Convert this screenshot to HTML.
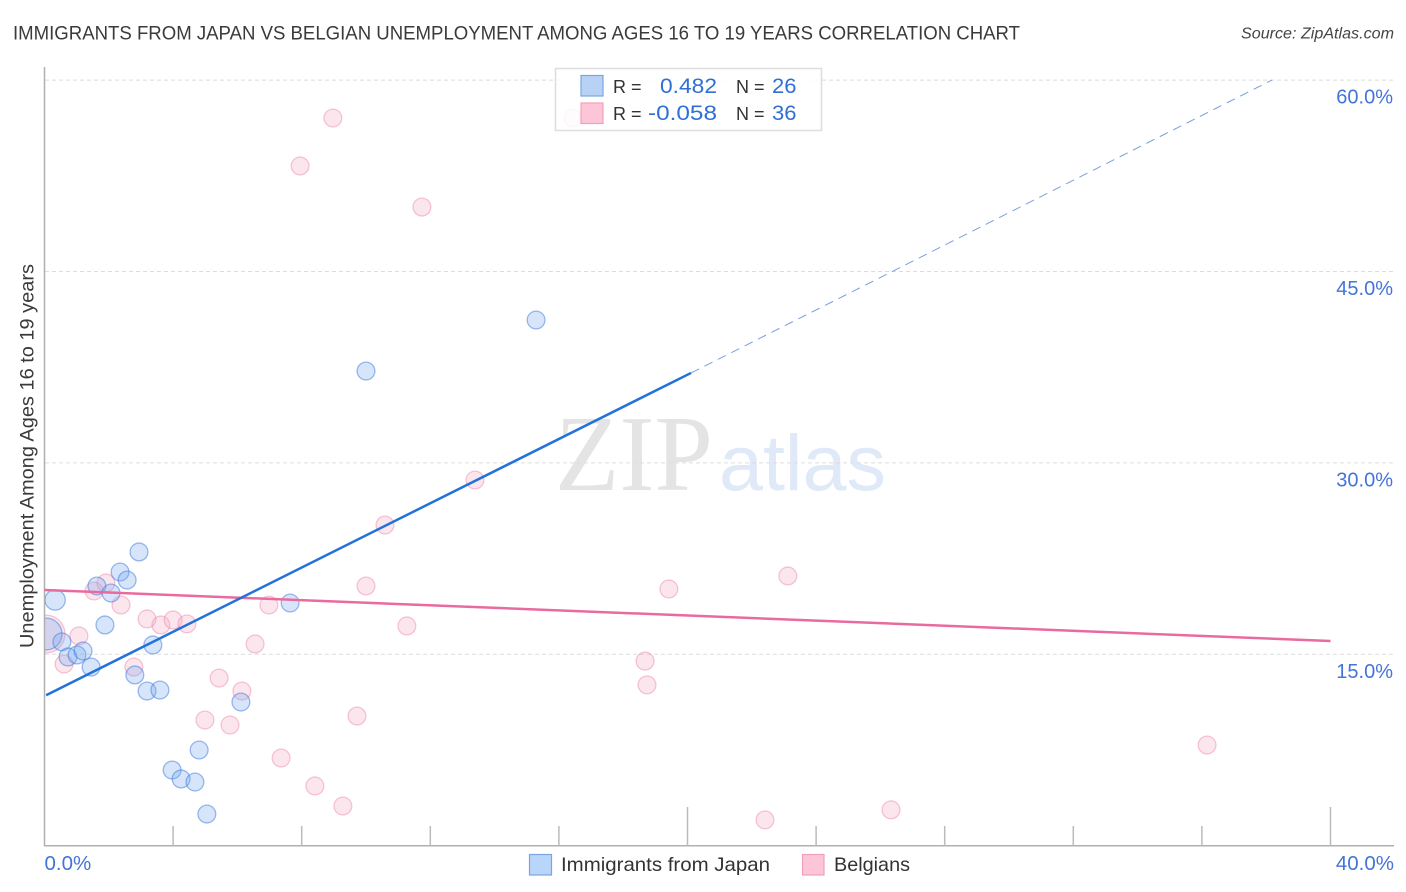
<!DOCTYPE html>
<html lang="en">
<head>
<meta charset="utf-8">
<title>Immigrants from Japan vs Belgian Unemployment Correlation Chart</title>
<style>
html,body{margin:0;padding:0;background:#fff;}
svg{display:block;font-family:"Liberation Sans",sans-serif;}
</style>
</head>
<body>
<svg id="chart" width="1406" height="892" viewBox="0 0 1406 892">
  <rect x="0" y="0" width="1406" height="892" fill="#ffffff"/>
  <text x="13" y="39.5" font-size="19.5" fill="#3a3a3a" textLength="1007" lengthAdjust="spacingAndGlyphs">IMMIGRANTS FROM JAPAN VS BELGIAN UNEMPLOYMENT AMONG AGES 16 TO 19 YEARS CORRELATION CHART</text>
  <text x="1394" y="38.5" font-size="15.5" font-style="italic" fill="#444" text-anchor="end" textLength="153" lengthAdjust="spacingAndGlyphs">Source: ZipAtlas.com</text>
  <g>
    <text x="555" y="490" font-family="'Liberation Serif',serif" font-size="108" fill="#e4e4e4" textLength="158" lengthAdjust="spacingAndGlyphs">ZIP</text>
    <text x="719" y="490" font-size="79" fill="#dfe9f8" textLength="167" lengthAdjust="spacingAndGlyphs">atlas</text>
  </g>
  <g id="grid"></g>
  <line x1="44.5" y1="67" x2="44.5" y2="846" stroke="#b0b0b0" stroke-width="1.5"/>
  <line x1="44" y1="845.7" x2="1394" y2="845.7" stroke="#b0b0b0" stroke-width="1.5"/>
  <g id="xticks"></g>
  <g id="ylabels"></g>
  <g id="xlabels"></g>
  <text transform="translate(33.5,456) rotate(-90)" font-size="19.5" fill="#3a3a3a" text-anchor="middle" textLength="384" lengthAdjust="spacingAndGlyphs">Unemployment Among Ages 16 to 19 years</text>
  <clipPath id="plot-clip"><rect x="45" y="60" width="1349" height="786"/></clipPath>
  <g id="points" clip-path="url(#plot-clip)"></g>
  <g id="trends"></g>

  <g>
    <rect x="555.5" y="68.5" width="266" height="62" fill="#ffffff" fill-opacity="0.85" stroke="#ddd" stroke-width="1.5"/>
    <rect x="581" y="75.5" width="22" height="20.5" fill="#b8d2f6" stroke="#7aa5e2" stroke-width="1.2"/>
    <rect x="581" y="103" width="22" height="20.5" fill="#fcc5d8" stroke="#f4a0bb" stroke-width="1.2"/>
    <text x="613" y="93" font-size="18" fill="#333">R =</text>
    <text x="717" y="93" font-size="21" fill="#2f6fd6" text-anchor="end" textLength="57" lengthAdjust="spacingAndGlyphs">0.482</text>
    <text x="736" y="93" font-size="18" fill="#333">N =</text>
    <text x="772" y="93" font-size="21" fill="#2f6fd6" textLength="24.5" lengthAdjust="spacingAndGlyphs">26</text>
    <text x="613" y="120" font-size="18" fill="#333">R =</text>
    <text x="717" y="120" font-size="21" fill="#2f6fd6" text-anchor="end" textLength="69" lengthAdjust="spacingAndGlyphs">-0.058</text>
    <text x="736" y="120" font-size="18" fill="#333">N =</text>
    <text x="772" y="120" font-size="21" fill="#2f6fd6" textLength="24.5" lengthAdjust="spacingAndGlyphs">36</text>
  </g>

  <g>
    <g>
      <rect x="529.5" y="854.5" width="22" height="20.5" fill="#b8d5fa" stroke="#7aa5e2" stroke-width="1.2"/>
      <text x="561" y="871" font-size="19.5" fill="#333" textLength="209" lengthAdjust="spacingAndGlyphs">Immigrants from Japan</text>
    </g>
    <g>
      <rect x="802.5" y="854.5" width="21.5" height="20.5" fill="#fcc5d8" stroke="#f0a0ba" stroke-width="1.2"/>
      <text x="834" y="871" font-size="19.5" fill="#333" textLength="76" lengthAdjust="spacingAndGlyphs">Belgians</text>
    </g>
  </g>
</svg>
<script>
// ---- chart data (percent units) ----
const japanX = [0.05,0.33,0.54,0.73,1.01,1.20,1.45,1.88,1.63,2.07,2.35,2.57,2.94,3.37,2.81,3.19,3.59,6.11,7.64,4.81,3.97,4.25,4.68,5.05,10.00,15.29];
const japanY = [16.59,19.26,15.97,14.79,14.95,15.26,14.00,17.30,20.35,19.80,21.45,20.82,23.02,15.73,13.38,12.12,12.20,11.26,19.02,7.50,5.93,5.23,4.99,2.48,37.20,41.20];
const japanWeight = [3.2,1.3,1,1,1,1,1,1,1,1,1,1,1,1,1,1,1,1,1,1,1,1,1,1,1,1];
const belgianX = [0.05,1.07,0.61,1.54,1.91,2.38,3.19,3.62,4.00,4.43,2.78,5.43,6.14,4.99,5.77,7.36,8.41,6.98,6.55,8.97,7.95,11.74,16.44,13.39,10.59,10.00,11.27,9.72,9.28,19.42,23.12,18.68,18.74,36.16,26.33,22.41];
const belgianY = [16.59,16.44,14.24,19.96,20.59,18.86,17.77,17.30,17.69,17.38,14.00,13.14,12.12,9.85,9.46,6.87,4.68,18.86,15.81,57.03,53.27,50.05,57.03,28.66,25.13,20.35,17.22,10.16,3.11,20.12,21.14,14.47,12.60,7.89,2.81,2.02];
const belgianWeight = [4.5,1,1,1,1,1,1,1,1,1,1,1,1,1,1,1,1,1,1,1,1,1,1,1,1,1,1,1,1,1,1,1,1,1,1,1];
const japanTrendX = [0.05,20.11];
const japanTrendY = [11.79,37.05];
const japanForecastX = [20.11,38.18];
const japanForecastY = [37.05,60.0];
const belgianTrendX = [0,40];
const belgianTrendY = [20.04,16.04];
const yTickValues = [15,30,45,60];
const yTickLabels = ["15.0%","30.0%","45.0%","60.0%"];
const xTickValues = [4,8,12,16,20,24,28,32,36,40];
const xMajorTicks = [20,40];
const xEndValues = [0,40];
const xEndLabels = ["0.0%","40.0%"];

// ---- axis functions ----
function xScale(v){ return 44.5 + v * 32.15; }
function yScale(v){ return 845.7 - v * 12.76; }
function radius(w){ return 8.9 * Math.sqrt(w); }

const NS = "http://www.w3.org/2000/svg";
function make(tag, attrs, parent){
  const el = document.createElementNS(NS, tag);
  for (const k in attrs) el.setAttribute(k, attrs[k]);
  parent.appendChild(el);
  return el;
}

const grid = document.getElementById('grid');
yTickValues.forEach(function(v){
  const el = make('line', {x1:45, x2:1394, y1:yScale(v), y2:yScale(v), stroke:'#ddd', 'stroke-width':1, 'stroke-dasharray':'4 3'}, grid);
  
  
});

const xticks = document.getElementById('xticks');
xTickValues.forEach(function(v){
  const top = xMajorTicks.indexOf(v) >= 0 ? 807 : 826;
  const el = make('line', {x1:xScale(v), x2:xScale(v), y1:top, y2:845.7, stroke:'#bbb', 'stroke-width':1.5}, xticks);
  
  
});

const ylabels = document.getElementById('ylabels');
yTickValues.forEach(function(v, i){
  const el = make('text', {x:1393, y:yScale(v) + 23.5, 'font-size':20, fill:'#4474d8', 'text-anchor':'end'}, ylabels);
  el.textContent = yTickLabels[i];
  
  
});

const xlabels = document.getElementById('xlabels');
xEndValues.forEach(function(v, i){
  const isLast = i === xEndValues.length - 1;
  const el = make('text', {x:isLast ? 1394 : xScale(v), y:870, 'font-size':20.5, fill:'#4474d8', 'text-anchor':isLast ? 'end' : 'start'}, xlabels);
  el.textContent = xEndLabels[i];
  
  
});

const points = document.getElementById('points');
belgianX.forEach(function(v, i){
  const el = make('circle', {cx:xScale(v), cy:yScale(belgianY[i]), r:radius(belgianWeight[i]), fill:'rgba(246,165,195,0.28)', stroke:'rgba(236,130,165,0.45)', 'stroke-width':1.3}, points);
  
  
});
japanX.forEach(function(v, i){
  const el = make('circle', {cx:xScale(v), cy:yScale(japanY[i]), r:radius(japanWeight[i]), fill:'rgba(120,170,238,0.3)', stroke:'rgba(60,120,220,0.5)', 'stroke-width':1.3}, points);
  
  
});

const trends = document.getElementById('trends');
const belgianLine = make('line', {x1:xScale(belgianTrendX[0]), y1:yScale(belgianTrendY[0]), x2:xScale(belgianTrendX[1]), y2:yScale(belgianTrendY[1]), stroke:'#e96b9d', 'stroke-width':2.5}, trends);


const japanLine = make('line', {x1:xScale(japanTrendX[0]), y1:yScale(japanTrendY[0]), x2:xScale(japanTrendX[1]), y2:yScale(japanTrendY[1]), stroke:'#2272dc', 'stroke-width':2.5}, trends);


const forecastLine = make('line', {x1:xScale(japanForecastX[0]), y1:yScale(japanForecastY[0]), x2:xScale(japanForecastX[1]), y2:yScale(japanForecastY[1]), stroke:'#7a9fe0', 'stroke-width':1, 'stroke-dasharray':'9 6'}, trends);


</script>
</body>
</html>
